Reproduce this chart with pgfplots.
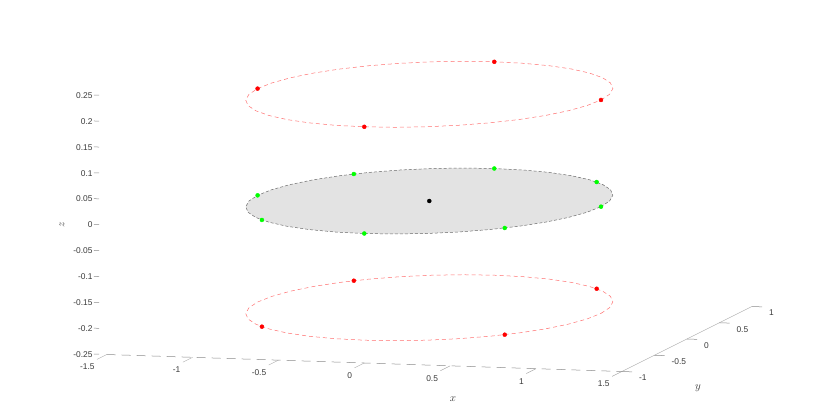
\documentclass[border=0pt]{standalone}
\usepackage{pgfplots}
\pgfplotsset{compat=1.18}
\usepackage{pgfplotstable}
\usepackage{fontspec}
\setmainfont{Liberation Sans}
\definecolor{ticktext}{HTML}{3A3A3A}
\definecolor{axgray}{HTML}{8A8A8A}
\definecolor{diskfill}{HTML}{E3E3E3}
\definecolor{diskedge}{HTML}{6A6A6A}
\definecolor{ringred}{HTML}{FF7070}
\tikzset{tl/.style={font=\fontsize{8.4}{10}\selectfont, text=ticktext, inner sep=0pt}}

\pgfplotstableread{
x y zt z0 zb
1 0 0.206 0 -0.206
0.9848 0.1736 0.206 0 -0.206
0.9397 0.3420 0.206 0 -0.206
0.8660 0.5000 0.206 0 -0.206
0.7660 0.6428 0.206 0 -0.206
0.6428 0.7660 0.206 0 -0.206
0.5000 0.8660 0.206 0 -0.206
0.3420 0.9397 0.206 0 -0.206
0.1736 0.9848 0.206 0 -0.206
0 1 0.206 0 -0.206
-0.1736 0.9848 0.206 0 -0.206
-0.3420 0.9397 0.206 0 -0.206
-0.5000 0.8660 0.206 0 -0.206
-0.6428 0.7660 0.206 0 -0.206
-0.7660 0.6428 0.206 0 -0.206
-0.8660 0.5000 0.206 0 -0.206
-0.9397 0.3420 0.206 0 -0.206
-0.9848 0.1736 0.206 0 -0.206
-1 0 0.206 0 -0.206
-0.9848 -0.1736 0.206 0 -0.206
-0.9397 -0.3420 0.206 0 -0.206
-0.8660 -0.5000 0.206 0 -0.206
-0.7660 -0.6428 0.206 0 -0.206
-0.6428 -0.7660 0.206 0 -0.206
-0.5000 -0.8660 0.206 0 -0.206
-0.3420 -0.9397 0.206 0 -0.206
-0.1736 -0.9848 0.206 0 -0.206
0 -1 0.206 0 -0.206
0.1736 -0.9848 0.206 0 -0.206
0.3420 -0.9397 0.206 0 -0.206
0.5000 -0.8660 0.206 0 -0.206
0.6428 -0.7660 0.206 0 -0.206
0.7660 -0.6428 0.206 0 -0.206
0.8660 -0.5000 0.206 0 -0.206
0.9397 -0.3420 0.206 0 -0.206
0.9848 -0.1736 0.206 0 -0.206
1 0 0.206 0 -0.206
}\circdata

\begin{document}
\begin{tikzpicture}[x=1pt,y=1pt]
\useasboundingbox (-429.3,-216) rectangle (400.7,201);
\begin{axis}[
  at={(0,0)}, anchor=origin, disabledatascaling,
  x={(171.7pt,-5.67pt)}, y={(65pt,32.5pt)}, z={(0pt,518pt)},
  xmin=-1.5, xmax=1.5, ymin=-1, ymax=1, zmin=-0.25, zmax=0.25,
  hide axis, clip=false,
]
% axes
\draw[axgray, line width=0.5pt, dash pattern=on 9pt off 6pt] (axis cs:-1.5,-1,-0.25) -- (axis cs:1.5,-1,-0.25);
\draw[axgray!70, line width=0.4pt] (axis cs:1.5,-1,-0.25) -- (axis cs:1.5,1,-0.25);
\pgfplotsinvokeforeach{-1.5,-1,-0.5,0,0.5,1,1.5}{
  \draw[axgray!80, line width=0.4pt] (axis cs:#1,-1,-0.25) -- (axis cs:#1,-1.15,-0.25);
  \node[tl, anchor=east, xshift=-12pt, yshift=-12.5pt] at (axis cs:#1,-1,-0.25) {#1};
}
\pgfplotsinvokeforeach{-1,-0.5,0,0.5,1}{
  \draw[axgray, line width=0.5pt] (axis cs:1.5,#1,-0.25) -- (axis cs:1.56,#1,-0.25);
  \node[tl, anchor=west, xshift=17pt, yshift=-6.5pt] at (axis cs:1.5,#1,-0.25) {#1};
}
\pgfplotsinvokeforeach{-0.25,-0.2,-0.15,-0.1,-0.05,0,0.05,0.1,0.15,0.2,0.25}{
  \draw[axgray, line width=0.5pt] (axis cs:-1.545,-1,#1) -- (axis cs:-1.575,-1,#1);
  \node[tl, anchor=east, xshift=-14pt] at (axis cs:-1.5,-1,#1) {#1};
}
% disk
\addplot3[draw=none, fill=diskfill] table[x=x,y=y,z=z0] {\circdata};
\addplot3[draw=diskedge, line width=0.5pt, dash pattern=on 3pt off 2pt, no marks] table[x=x,y=y,z=z0] {\circdata};
% rings
\addplot3[draw=ringred, line width=0.5pt, dash pattern=on 4pt off 3pt, no marks] table[x=x,y=y,z=zt] {\circdata};
\addplot3[draw=ringred, line width=0.5pt, dash pattern=on 4pt off 3pt, no marks] table[x=x,y=y,z=zb] {\circdata};
% markers
\addplot3[only marks, mark=*, mark size=2pt, color=red] coordinates {(1,0,0.206) (0,1,0.206) (-1,0,0.206) (0,-1,0.206)};
\addplot3[only marks, mark=*, mark size=2pt, color=red] coordinates {(0.7071,0.7071,-0.206) (-0.7071,0.7071,-0.206) (-0.7071,-0.7071,-0.206) (0.7071,-0.7071,-0.206)};
\addplot3[only marks, mark=*, mark size=2pt, color=green] coordinates {(1,0,0) (0.7071,0.7071,0) (0,1,0) (-0.7071,0.7071,0) (-1,0,0) (-0.7071,-0.7071,0) (0,-1,0) (0.7071,-0.7071,0)};
\addplot3[only marks, mark=*, mark size=2pt, color=black] coordinates {(0,0,0)};
\end{axis}
\node[font=\fontsize{11}{13}\selectfont, text=ticktext] at (23.7,-198) {$x$};
\node[font=\fontsize{11}{13}\selectfont, text=ticktext] at (268.7,-187) {$y$};
\node[font=\fontsize{11}{13}\selectfont, text=ticktext, rotate=90] at (-367.3,-24) {$z$};
\end{tikzpicture}
\end{document}
